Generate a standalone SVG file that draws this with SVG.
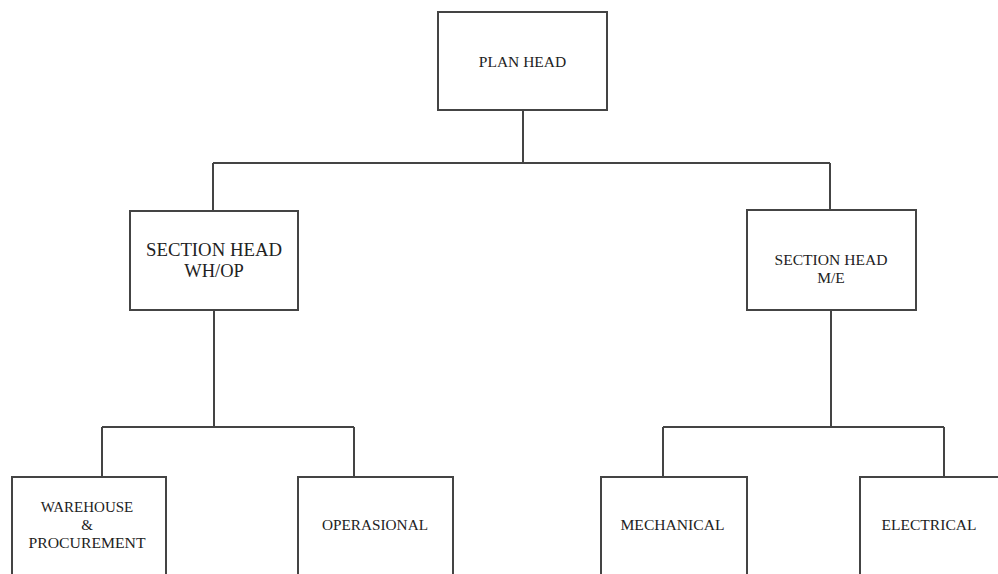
<svg xmlns="http://www.w3.org/2000/svg" width="998" height="574" viewBox="0 0 998 574">
<style>
.box{fill:#fff;stroke:#444;stroke-width:2}
.ln{fill:none;stroke:#444;stroke-width:2}
text{font-family:"Liberation Serif","Times New Roman",serif;fill:#222;text-anchor:middle}
</style>
<rect width="998" height="574" fill="#fff"/>
<g id="connectors">
<path class="ln" d="M523 110V163M213 163H830M213 163V211M830 163V210"/>
<path class="ln" d="M214 310V427M102 427H354M102 427V477M354 427V477"/>
<path class="ln" d="M831 310V427M663 427H944M663 427V477M944 427V477"/>
</g>
<g id="plan-head">
<rect class="box" x="438" y="12" width="169" height="98"/>
<text x="522.5" y="67" font-size="15.5">PLAN HEAD</text>
</g>
<g id="section-head-whop">
<rect class="box" x="130" y="211" width="168" height="99"/>
<text x="214" y="256" font-size="18.5" textLength="136" lengthAdjust="spacingAndGlyphs">SECTION HEAD</text>
<text x="214" y="277" font-size="18.5">WH/OP</text>
</g>
<g id="section-head-me">
<rect class="box" x="747" y="210" width="169" height="100"/>
<text x="831" y="265" font-size="15.5" textLength="113" lengthAdjust="spacingAndGlyphs">SECTION HEAD</text>
<text x="831" y="283" font-size="15.5">M/E</text>
</g>
<g id="warehouse">
<rect class="box" x="12" y="477" width="154" height="110"/>
<text x="87" y="512" font-size="15">WAREHOUSE</text>
<text x="87" y="530" font-size="15">&amp;</text>
<text x="87" y="548" font-size="15" textLength="117" lengthAdjust="spacingAndGlyphs">PROCUREMENT</text>
</g>
<g id="operasional">
<rect class="box" x="298" y="477" width="155" height="110"/>
<text x="375" y="530" font-size="15" textLength="106" lengthAdjust="spacingAndGlyphs">OPERASIONAL</text>
</g>
<g id="mechanical">
<rect class="box" x="601" y="477" width="146" height="110"/>
<text x="672.5" y="530" font-size="15" textLength="104" lengthAdjust="spacingAndGlyphs">MECHANICAL</text>
</g>
<g id="electrical">
<rect class="box" x="860" y="477" width="150" height="110"/>
<text x="929" y="530" font-size="15" textLength="95" lengthAdjust="spacingAndGlyphs">ELECTRICAL</text>
</g>
</svg>
